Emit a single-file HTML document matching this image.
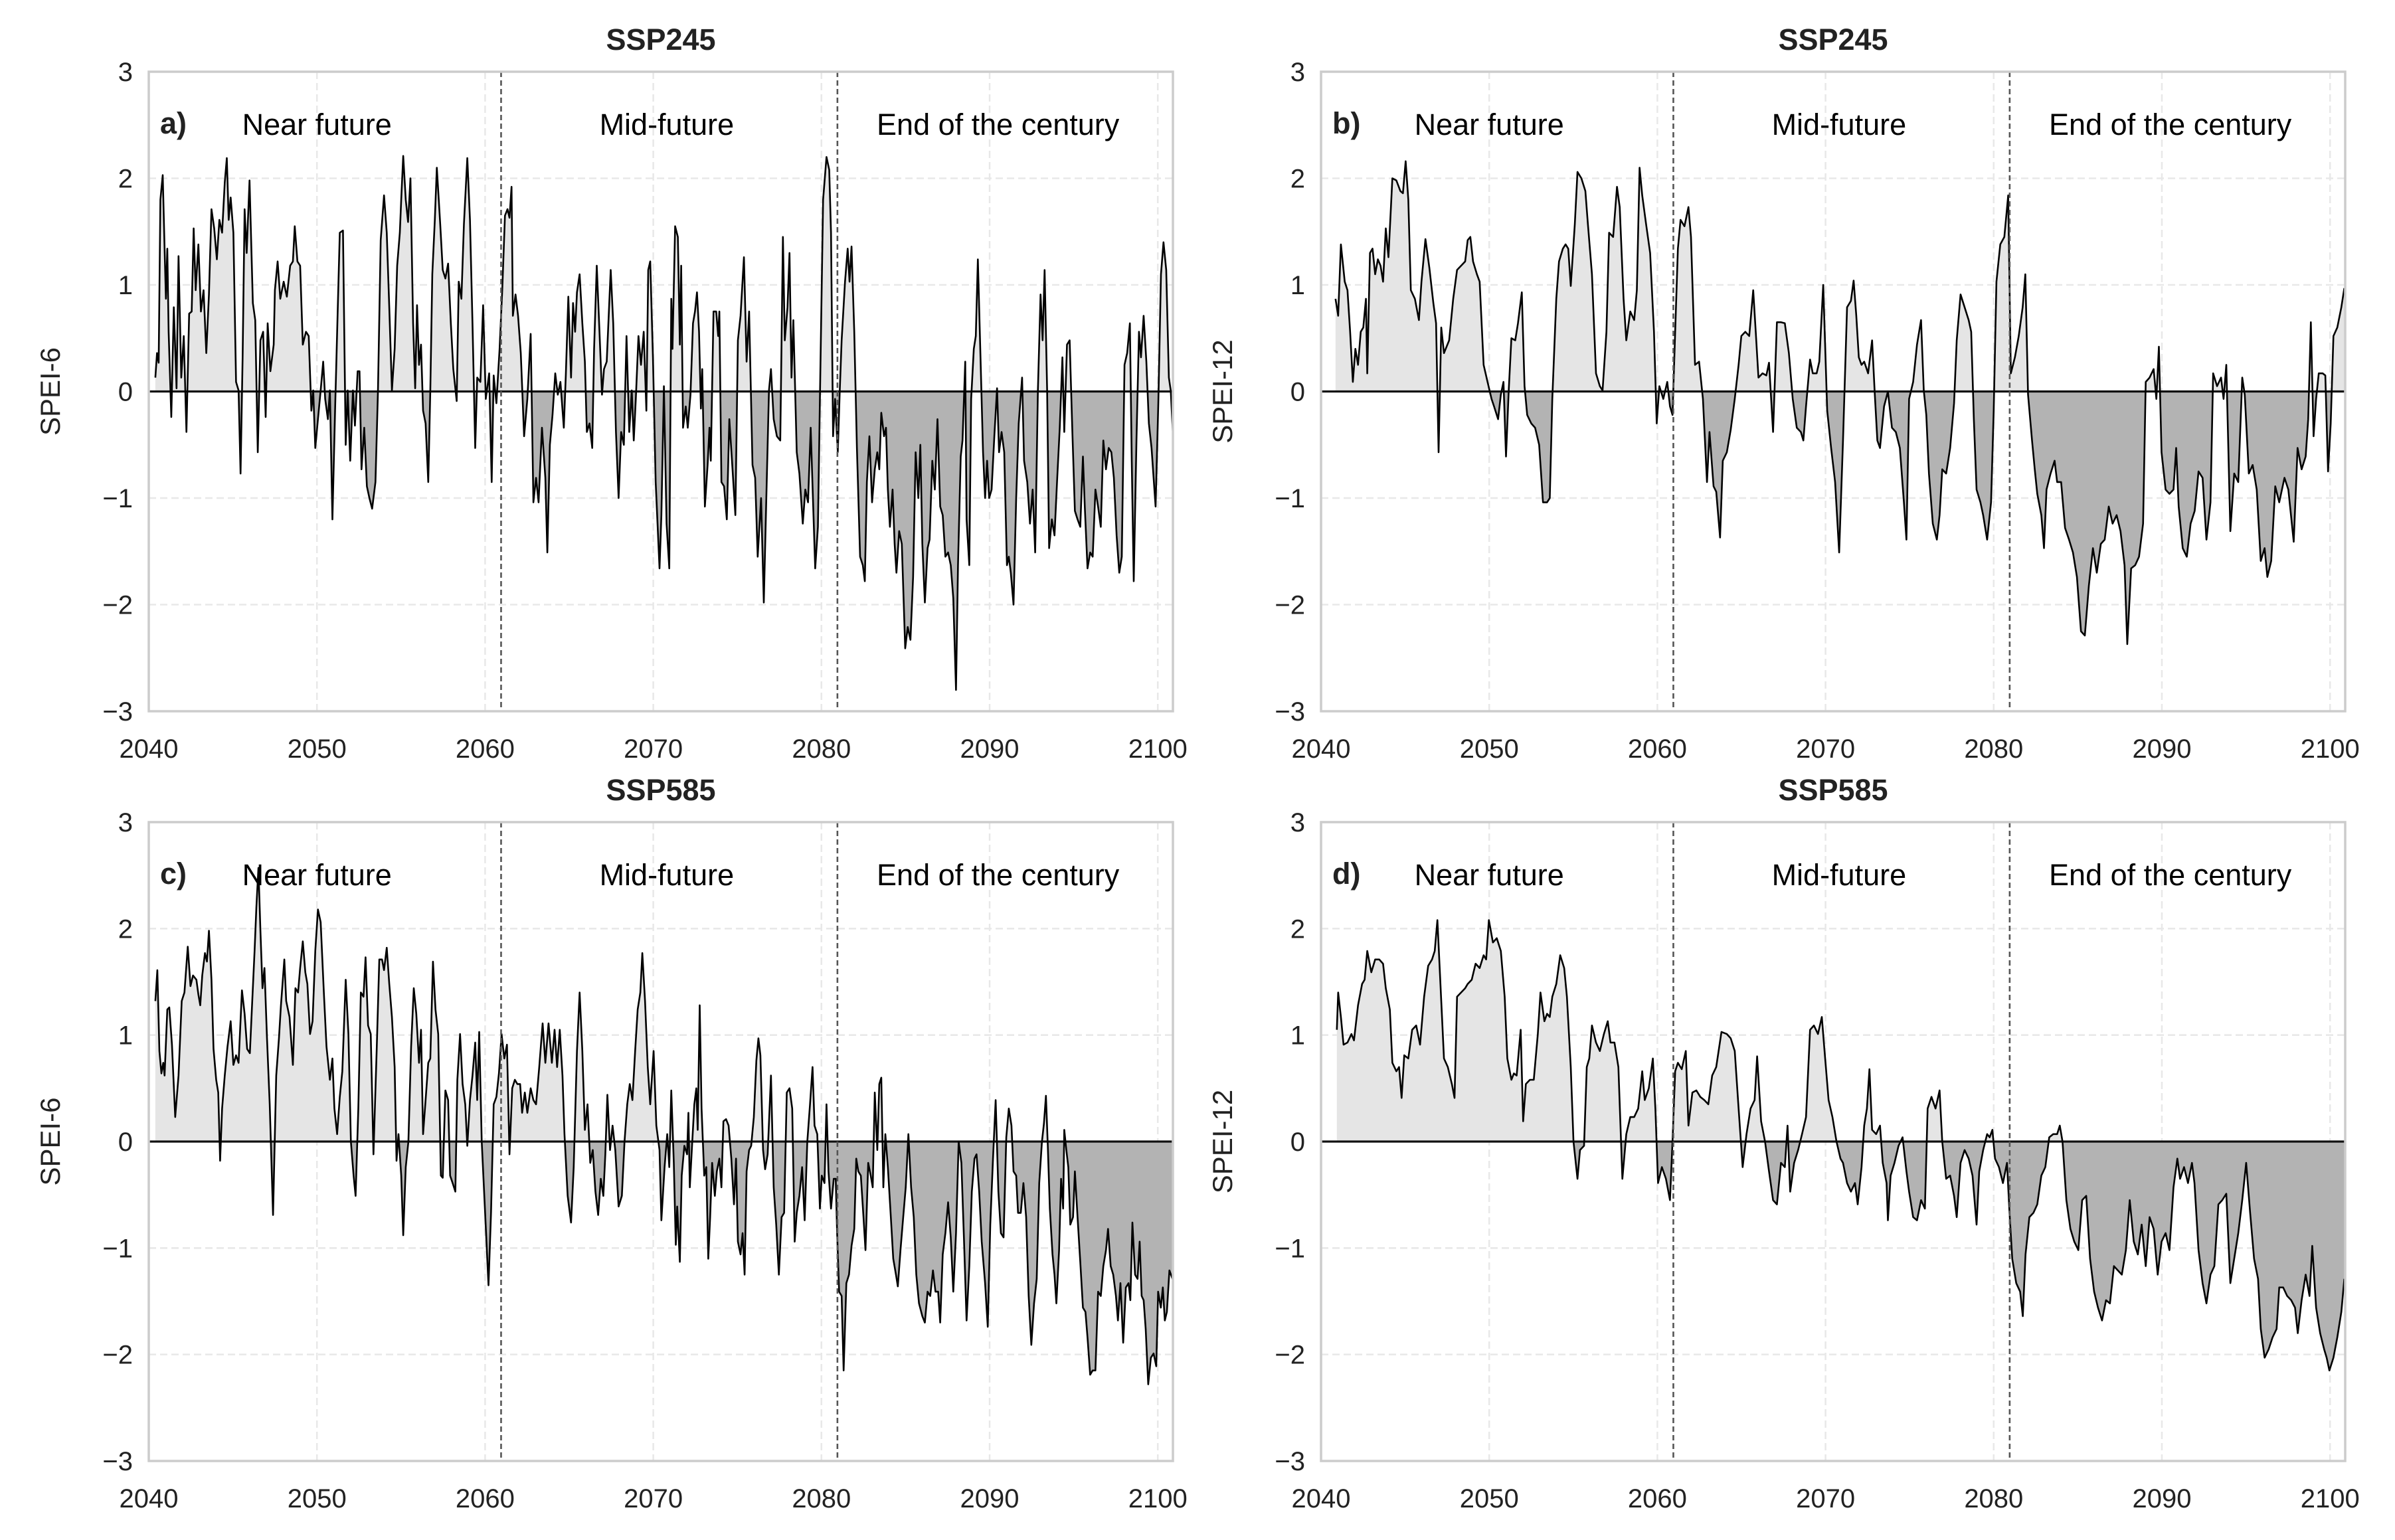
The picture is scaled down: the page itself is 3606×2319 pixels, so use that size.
<!DOCTYPE html>
<html><head><meta charset="utf-8"><title>SPEI projections</title>
<style>
html,body{margin:0;padding:0;background:#fff;}
svg{display:block;font-family:"Liberation Sans",Arial,sans-serif;}
</style></head>
<body>
<svg id="fig" width="3606" height="2319" viewBox="0 0 3606 2319" xmlns="http://www.w3.org/2000/svg"></svg>
<script>
// ---------- DATA ----------
const xTicks = [2040, 2050, 2060, 2070, 2080, 2090, 2100];
const yTicks = [-3, -2, -1, 0, 1, 2, 3];
const yTickLabels = ["\u22123", "\u22122", "\u22121", "0", "1", "2", "3"];
const periodBounds = [2060.95, 2080.95];
const periodNames = ["Near future", "Mid-future", "End of the century"];
const periodLabelYears = [2050, 2070.8, 2090.5];
const panelTags = ["a)", "b)", "c)", "d)"];
const scenarioTitles = ["SSP245", "SSP245", "SSP585", "SSP585"];
const yAxisTitles = ["SPEI-6", "SPEI-12", "SPEI-6", "SPEI-12"];

const yearsA = [2040.39,2040.49,2040.59,2040.69,2040.83,2040.94,2041.02,2041.1,2041.18,2041.34,2041.49,2041.65,2041.77,2041.93,2042.08,2042.24,2042.4,2042.55,2042.67,2042.79,2042.95,2043.1,2043.26,2043.42,2043.58,2043.73,2043.89,2044.05,2044.2,2044.36,2044.52,2044.64,2044.75,2044.87,2045.03,2045.19,2045.34,2045.46,2045.58,2045.7,2045.82,2045.99,2046.19,2046.33,2046.48,2046.64,2046.8,2046.95,2047.07,2047.23,2047.43,2047.5,2047.66,2047.82,2048.02,2048.21,2048.41,2048.57,2048.68,2048.84,2049,2049.16,2049.35,2049.51,2049.67,2049.78,2049.9,2050.06,2050.22,2050.37,2050.49,2050.65,2050.77,2050.92,2051.08,2051.24,2051.36,2051.55,2051.71,2051.83,2051.98,2052.14,2052.26,2052.42,2052.53,2052.65,2052.81,2052.97,2053.12,2053.28,2053.48,2053.63,2053.79,2053.99,2054.15,2054.3,2054.46,2054.62,2054.77,2054.93,2055.01,2055.13,2055.28,2055.42,2055.56,2055.72,2055.84,2055.95,2056.07,2056.19,2056.31,2056.46,2056.62,2056.74,2056.86,2057.01,2057.13,2057.33,2057.48,2057.64,2057.8,2057.96,2058.11,2058.31,2058.43,2058.59,2058.74,2058.94,2059.1,2059.25,2059.41,2059.53,2059.72,2059.88,2060.04,2060.24,2060.39,2060.51,2060.67,2060.86,2061.02,2061.18,2061.33,2061.45,2061.57,2061.65,2061.81,2061.96,2062.12,2062.32,2062.51,2062.71,2062.87,2063.03,2063.18,2063.38,2063.58,2063.7,2063.85,2064.01,2064.17,2064.32,2064.48,2064.68,2064.8,2064.95,2065.11,2065.23,2065.35,2065.46,2065.62,2065.78,2065.93,2066.05,2066.21,2066.37,2066.48,2066.64,2066.8,2066.95,2067.07,2067.23,2067.47,2067.62,2067.78,2067.94,2068.09,2068.25,2068.41,2068.57,2068.72,2068.84,2068.96,2069.12,2069.27,2069.43,2069.59,2069.7,2069.82,2069.98,2070.14,2070.37,
2070.48,2070.63,2070.79,2070.95,2071.07,2071.14,2071.3,2071.46,2071.58,2071.66,2071.77,2071.93,2072.05,2072.21,2072.36,2072.48,2072.6,2072.72,2072.83,2072.91,2073.07,2073.23,2073.34,2073.42,2073.58,2073.74,2073.86,2073.93,2074.05,2074.21,2074.37,2074.52,2074.68,2074.88,2075.03,2075.19,2075.39,2075.55,2075.7,2075.9,2076.06,2076.21,2076.41,2076.57,2076.72,2076.88,2077,2077.16,2077.35,2077.55,2077.71,2077.82,2077.98,2078.1,2078.22,2078.33,2078.53,2078.69,2078.89,2079.04,2079.2,2079.36,2079.47,2079.63,2079.79,2079.91,2080.1,2080.3,2080.46,2080.57,2080.69,2080.81,2080.97,2081.09,2081.2,2081.4,2081.56,2081.67,2081.79,2081.95,2082.11,2082.3,2082.46,2082.58,2082.7,2082.85,2083.01,2083.17,2083.32,2083.44,2083.56,2083.72,2083.84,2083.95,2084.07,2084.23,2084.35,2084.46,2084.62,2084.78,2084.98,2085.13,2085.29,2085.45,2085.6,2085.76,2085.88,2086,2086.15,2086.31,2086.43,2086.59,2086.74,2086.9,2087.06,2087.21,2087.37,2087.53,2087.69,2087.84,2088,2088.12,2088.28,2088.39,2088.55,2088.63,2088.79,2088.9,2089.06,2089.18,2089.3,2089.45,2089.61,2089.73,2089.85,2089.97,2090.12,2090.28,2090.44,2090.56,2090.71,2090.87,2091.03,2091.14,2091.26,2091.42,2091.58,2091.73,2091.93,2092.05,2092.24,2092.4,2092.56,2092.71,2092.87,2093.03,2093.15,2093.27,2093.42,2093.54,2093.7,2093.86,2094.01,2094.17,2094.33,2094.44,2094.6,2094.76,2094.92,2095.07,2095.23,2095.39,2095.55,2095.66,2095.82,2095.98,2096.13,2096.29,2096.45,2096.61,2096.76,2096.92,2097.08,2097.24,2097.39,2097.55,2097.71,2097.86,2098.02,2098.18,2098.34,2098.45,2098.57,2098.73,2098.88,2099,2099.16,2099.32,2099.47,2099.63,2099.87,2100.03,2100.19,2100.34,2100.5,2100.66,2100.77,2100.9];
const valuesA = [0.13,0.36,0.27,1.8,2.03,1.34,0.87,1.34,0.56,-0.24,0.79,0.03,1.27,0.13,0.52,-0.38,0.73,0.75,1.53,0.95,1.38,0.75,0.95,0.36,0.91,1.71,1.53,1.24,1.61,1.49,1.96,2.19,1.61,1.82,1.49,0.09,0.01,-0.77,0.32,1.71,1.3,1.98,0.83,0.67,-0.57,0.48,0.56,-0.24,0.64,0.19,0.44,0.95,1.22,0.87,1.03,0.89,1.18,1.22,1.55,1.22,1.18,0.44,0.56,0.52,-0.18,0.01,-0.53,-0.26,0.01,0.28,-0.07,-0.26,0.01,-1.2,-0.18,0.79,1.49,1.51,-0.5,0.01,-0.65,0.01,-0.32,0.19,0.19,-0.73,-0.34,-0.89,-1.0,-1.1,-0.85,0.01,1.42,1.84,1.49,0.79,0.01,0.4,1.18,1.49,1.8,2.21,1.8,1.59,2.0,0.64,0.03,0.81,0.25,0.44,-0.18,-0.3,-0.85,0.01,1.1,1.61,2.1,1.57,1.14,1.06,1.2,0.64,0.21,-0.09,1.03,0.87,1.57,2.19,1.61,0.64,-0.53,0.13,0.09,0.81,-0.07,0.17,-0.85,0.15,-0.11,0.4,0.95,1.65,1.71,1.63,1.92,0.71,0.91,0.71,0.36,-0.42,-0.07,0.54,-1.04,-0.81,-1.04,-0.34,-0.81,-1.51,-0.5,-0.22,0.17,-0.03,0.09,-0.34,0.15,0.89,0.13,0.83,0.56,0.93,1.1,0.64,0.28,-0.38,-0.3,-0.53,0.4,1.18,0.56,-0.03,0.21,0.28,1.14,0.64,-0.38,-1.0,-0.38,-0.5,0.52,-0.38,0.01,-0.46,-0.07,0.52,0.25,0.56,-0.18,1.14,1.22,0.32,-0.85,-1.66,
-1.16,0.05,-1.24,-1.66,0.87,0.4,1.55,1.45,0.44,1.18,-0.34,-0.14,-0.34,-0.03,0.64,0.75,0.93,0.56,-0.16,0.21,-1.08,-0.69,-0.34,-0.65,0.75,0.75,0.52,0.75,-0.85,-0.89,-1.2,-0.26,-0.65,-1.16,0.48,0.71,1.26,0.28,0.75,-0.69,-0.81,-1.55,-1.0,-1.98,-1.0,0.01,0.21,-0.26,-0.42,-0.46,1.45,0.48,0.79,1.3,0.13,0.67,-0.57,-0.77,-1.24,-0.92,-1.04,-0.34,-0.89,-1.66,-1.27,-0.07,1.8,2.2,2.08,1.49,-0.42,-0.07,-0.57,0.01,0.48,1.03,1.34,1.03,1.36,0.56,-0.53,-1.55,-1.63,-1.78,-0.85,-0.42,-1.04,-0.73,-0.57,-0.73,-0.2,-0.42,-0.34,-0.92,-1.27,-0.92,-1.43,-1.7,-1.31,-1.43,-2.41,-2.21,-2.33,-1.74,-0.57,-1.0,-0.5,-1.43,-1.98,-1.47,-1.39,-0.65,-0.92,-0.26,-1.08,-1.16,-1.55,-1.51,-1.63,-1.94,-2.8,-1.63,-0.61,-0.46,0.28,-1.2,-1.63,-0.07,0.4,0.52,1.24,0.36,-0.57,-1.0,-0.65,-1.0,-0.92,-0.42,0.03,-0.57,-0.38,-0.57,-1.63,-1.55,-1.7,-2.0,-1.0,-0.3,0.13,-0.65,-0.85,-1.24,-0.92,-1.51,0.01,0.91,0.48,1.14,0.01,-1.47,-1.2,-1.35,-0.85,-0.34,0.32,-0.38,0.44,0.48,-0.38,-1.12,-1.2,-1.27,-0.61,-1.08,-1.66,-1.51,-1.55,-0.92,-1.08,-1.27,-0.46,-0.73,-0.53,-0.57,-0.81,-1.35,-1.7,-1.55,0.25,0.36,0.64,-0.65,-1.78,-0.46,0.56,0.32,0.71,0.28,-0.3,-0.53,-1.08,-0.11,1.1,1.4,1.14,0.13,0.01,-0.4];

const yearsB = [2040.86,2041.02,2041.18,2041.41,2041.57,2041.73,2041.89,2042.04,2042.2,2042.36,2042.51,2042.67,2042.75,2042.91,2043.06,2043.22,2043.38,2043.54,2043.69,2043.85,2044.01,2044.24,2044.48,2044.72,2044.87,2045.03,2045.19,2045.34,2045.58,2045.82,2045.97,2046.21,2046.44,2046.68,2046.84,2046.99,2047.15,2047.31,2047.62,2047.86,2048.09,2048.33,2048.57,2048.72,2048.88,2049.04,2049.27,2049.43,2049.67,2049.9,2050.14,2050.29,2050.53,2050.69,2050.85,2051,2051.16,2051.32,2051.55,2051.71,2051.94,2052.1,2052.26,2052.5,2052.73,2052.97,2053.2,2053.44,2053.6,2053.75,2053.99,2054.15,2054.38,2054.54,2054.7,2054.85,2055.09,2055.25,2055.48,2055.72,2055.87,2056.11,2056.35,2056.58,2056.74,2056.97,2057.13,2057.37,2057.6,2057.76,2057.99,2058.15,2058.39,2058.62,2058.78,2058.94,2059.1,2059.33,2059.57,2059.8,2059.96,2060.12,2060.35,2060.59,2060.75,2060.9,2061.06,2061.22,2061.38,2061.61,2061.85,2062,2062.24,2062.48,2062.71,2062.95,2063.1,2063.34,2063.5,2063.73,2063.89,2064.13,2064.36,2064.6,2064.83,2064.99,2065.23,2065.46,2065.7,2065.85,2066.01,2066.25,2066.48,2066.64,2066.88,2067.11,2067.35,2067.58,2067.82,2068.05,2068.29,2068.53,2068.68,2068.84,2069.08,2069.24,2069.47,2069.63,2069.86,2070.1,2070.33,2070.57,2070.81,2071.04,2071.28,2071.51,2071.67,2071.83,2071.98,2072.14,2072.3,2072.53,2072.77,2072.93,2073.08,2073.24,2073.48,2073.71,2073.95,2074.18,2074.42,2074.66,2074.81,2074.97,2075.21,2075.44,2075.68,2075.84,2075.99,2076.15,2076.38,2076.62,2076.78,2076.94,2077.17,2077.41,2077.64,2077.8,2078.03,2078.27,2078.51,2078.66,2078.82,2078.98,2079.21,2079.37,2079.61,2079.84,2080,2080.16,2080.39,2080.63,2080.86,2081.02,2081.26,2081.49,2081.72,2081.88,2082.04,2082.28,2082.44,2082.59,2082.83,2082.99,2083.14,2083.38,2083.62,2083.77,2084.01,2084.24,2084.48,2084.71,2084.95,2085.19,2085.42,2085.66,2085.9,2086.13,2086.37,2086.6,2086.84,2087.07,2087.31,2087.54,2087.78,2087.94,2088.17,2088.41,2088.64,2088.88,2089.04,2089.27,2089.51,2089.67,2089.82,2089.98,2090.22,2090.45,2090.69,2090.85,2091,2091.24,2091.48,2091.71,2091.95,2092.18,2092.42,2092.65,2092.89,2093.05,2093.28,2093.52,2093.67,2093.83,2094.07,2094.3,2094.54,2094.78,2094.93,2095.17,2095.4,2095.64,2095.88,2096.11,2096.27,2096.5,2096.74,2096.98,2097.29,2097.52,2097.84,2098.07,2098.31,2098.55,2098.7,2098.86,2099.02,2099.17,2099.33,2099.56,2099.72,2099.88,2100.04,2100.2,2100.43,2100.67,2100.85];
const valuesB = [0.87,0.71,1.38,1.03,0.95,0.56,0.09,0.4,0.25,0.56,0.6,0.87,0.17,1.3,1.34,1.1,1.24,1.18,1.03,1.53,1.26,2.0,1.98,1.88,1.86,2.16,1.8,0.95,0.87,0.67,1.03,1.43,1.16,0.83,0.64,-0.57,0.6,0.36,0.48,0.87,1.14,1.18,1.22,1.42,1.45,1.22,1.1,1.03,0.25,0.09,-0.07,-0.14,-0.26,-0.03,0.09,-0.61,0.01,0.5,0.48,0.64,0.93,0.05,-0.22,-0.3,-0.34,-0.5,-1.04,-1.04,-1.0,-0.07,0.87,1.22,1.34,1.38,1.34,0.99,1.57,2.06,2.0,1.88,1.57,1.1,0.17,0.05,0.01,0.56,1.49,1.45,1.92,1.73,0.87,0.48,0.75,0.67,0.95,2.1,1.84,1.57,1.3,0.56,-0.3,0.05,-0.07,0.09,-0.14,-0.22,0.56,1.34,1.61,1.55,1.73,1.45,0.25,0.28,-0.07,-0.85,-0.38,-0.89,-0.94,-1.37,-0.65,-0.57,-0.36,-0.07,0.25,0.52,0.56,0.52,0.95,0.56,0.13,0.17,0.15,0.27,-0.38,0.65,0.65,0.64,0.36,-0.07,-0.34,-0.38,-0.46,-0.14,0.3,0.17,0.17,0.28,1.0,-0.18,-0.53,-0.85,-1.51,-0.46,0.79,0.85,1.04,0.71,0.32,0.25,0.28,0.17,0.48,-0.03,-0.46,-0.53,-0.14,0,-0.34,-0.38,-0.53,-1.04,-1.39,-0.07,0.09,0.44,0.67,0.01,-0.22,-0.77,-1.24,-1.39,-1.16,-0.73,-0.77,-0.53,-0.11,0.48,0.91,0.79,0.67,0.56,-0.26,-0.92,-1.04,-1.16,-1.39,-1.04,-0.18,1.03,1.38,1.45,1.84,0.17,0.32,0.52,0.79,1.1,-0.03,-0.46,-0.73,-0.96,-1.16,-1.47,-0.92,-0.77,-0.65,-0.85,-0.85,-1.28,-1.39,-1.51,-1.74,-2.25,-2.29,-1.82,-1.47,-1.7,-1.43,-1.39,-1.08,-1.24,-1.16,-1.31,-1.63,-2.37,-1.66,-1.63,-1.55,-1.24,0.09,0.13,0.21,-0.07,0.42,-0.57,-0.92,-0.96,-0.92,-0.53,-1.08,-1.47,-1.55,-1.24,-1.12,-0.75,-0.81,-1.39,-1.04,0.17,0.05,0.13,-0.07,0.25,-1.31,-0.77,-0.85,0.13,-0.03,-0.77,-0.69,-0.92,-1.59,-1.47,-1.74,-1.59,-0.89,-1.04,-0.81,-0.92,-1.41,-0.53,-0.73,-0.61,-0.26,0.65,-0.42,-0.07,0.17,0.17,0.15,-0.75,-0.3,0.52,0.6,0.79,0.97];

const yearsC = [2040.39,2040.51,2040.63,2040.75,2040.86,2040.94,2041.1,2041.22,2041.38,2041.57,2041.77,2041.96,2042.12,2042.32,2042.48,2042.63,2042.83,2042.95,2043.06,2043.18,2043.34,2043.46,2043.58,2043.73,2043.85,2044.01,2044.13,2044.24,2044.36,2044.52,2044.68,2044.87,2045.03,2045.19,2045.34,2045.54,2045.7,2045.85,2046.01,2046.13,2046.29,2046.4,2046.52,2046.64,2046.76,2046.88,2047.03,2047.19,2047.39,2047.58,2047.74,2047.86,2048.06,2048.17,2048.37,2048.57,2048.72,2048.88,2049,2049.16,2049.31,2049.43,2049.59,2049.74,2049.9,2050.06,2050.22,2050.41,2050.57,2050.77,2050.92,2051.04,2051.2,2051.36,2051.51,2051.71,2051.87,2052.02,2052.18,2052.3,2052.46,2052.61,2052.77,2052.89,2053.04,2053.2,2053.36,2053.56,2053.71,2053.87,2053.99,2054.15,2054.3,2054.46,2054.62,2054.73,2054.85,2055.01,2055.13,2055.28,2055.44,2055.6,2055.76,2055.91,2056.07,2056.19,2056.31,2056.46,2056.62,2056.74,2056.9,2057.05,2057.21,2057.37,2057.48,2057.64,2057.8,2057.92,2058.07,2058.23,2058.35,2058.51,2058.66,2058.82,2058.94,2059.1,2059.25,2059.41,2059.53,2059.65,2059.8,2060,2060.2,2060.35,2060.51,2060.67,2060.82,2060.98,2061.14,2061.3,2061.45,2061.61,2061.77,2061.92,2062.08,2062.2,2062.36,2062.51,2062.71,2062.87,2063.03,2063.22,2063.42,2063.58,2063.77,2063.97,2064.13,2064.28,2064.44,2064.6,2064.72,2064.91,2065.11,2065.27,2065.46,2065.62,2065.78,2065.93,2066.09,2066.25,2066.4,2066.56,2066.72,2066.88,2067.03,2067.15,2067.27,2067.43,2067.58,2067.74,2067.94,2068.13,2068.29,2068.45,2068.6,2068.76,2068.92,2069.07,2069.23,2069.35,2069.51,2069.67,2069.82,2070.02,2070.18,2070.37,2070.48,2070.67,2070.83,2070.95,2071.07,2071.22,2071.34,2071.42,2071.58,2071.69,2071.85,2072.01,2072.09,2072.17,2072.32,2072.44,2072.56,2072.64,2072.76,2072.87,2073.03,2073.15,2073.27,2073.38,2073.5,2073.66,2073.78,2073.93,2074.05,2074.17,2074.33,2074.48,2074.64,2074.8,2074.92,2075.03,2075.19,2075.31,2075.43,2075.55,2075.7,2075.82,2075.98,2076.13,2076.25,2076.37,2076.53,2076.65,2076.8,2077,2077.16,2077.31,2077.47,2077.63,2077.78,2077.94,2078.1,2078.26,2078.41,2078.53,2078.69,2078.85,2079,2079.16,2079.32,2079.47,2079.59,2079.75,2079.91,2080.02,2080.18,2080.3,2080.42,2080.57,2080.73,2080.85,2080.93,2081.05,2081.2,2081.32,2081.48,2081.64,2081.79,2081.95,2082.07,2082.19,2082.34,2082.5,2082.62,2082.78,2082.93,2083.05,2083.17,2083.32,2083.44,2083.56,2083.68,2083.8,2083.95,2084.11,2084.27,2084.43,2084.54,2084.7,2084.86,2085.01,2085.17,2085.33,2085.49,2085.64,2085.8,2086,2086.15,2086.31,2086.47,2086.63,2086.78,2086.94,2087.06,2087.21,2087.37,2087.53,2087.69,2087.84,2088,2088.16,2088.32,2088.47,2088.63,2088.79,2088.94,2089.1,2089.22,2089.38,2089.53,2089.73,2089.89,2090.04,2090.2,2090.36,2090.52,2090.67,2090.83,2090.99,2091.14,2091.3,2091.42,2091.58,2091.69,2091.85,2092.01,2092.17,2092.32,2092.48,2092.64,2092.8,2092.95,2093.11,2093.23,2093.35,2093.46,2093.58,2093.74,2093.86,2093.97,2094.13,2094.25,2094.37,2094.44,2094.56,2094.68,2094.8,2094.96,2095.07,2095.23,2095.39,2095.55,2095.7,2095.82,2095.98,2096.13,2096.29,2096.45,2096.61,2096.76,2096.92,2097.04,2097.2,2097.35,2097.51,2097.63,2097.78,2097.94,2098.1,2098.26,2098.37,2098.49,2098.65,2098.8,2098.92,2099.04,2099.16,2099.28,2099.43,2099.59,2099.75,2099.91,2100.02,2100.18,2100.3,2100.42,2100.54,2100.69,2100.9];
const valuesC = [1.32,1.61,0.85,0.64,0.74,0.62,1.24,1.26,0.91,0.23,0.62,1.32,1.4,1.83,1.46,1.56,1.52,1.38,1.28,1.56,1.77,1.69,1.98,1.52,0.87,0.58,0.46,-0.18,0.31,0.62,0.89,1.13,0.72,0.81,0.74,1.42,1.2,0.87,0.83,1.24,1.79,2.2,2.57,1.98,1.44,1.63,0.97,0.35,-0.69,0.62,0.97,1.28,1.71,1.32,1.17,0.72,1.44,1.4,1.63,1.88,1.59,1.48,1.01,1.13,1.79,2.18,2.06,1.4,0.89,0.58,0.78,0.31,0.07,0.42,0.66,1.52,1.01,0,-0.32,-0.51,0.31,1.4,1.36,1.73,1.09,1.01,-0.12,0.89,1.71,1.71,1.61,1.82,1.48,1.17,0.7,-0.18,0.07,-0.32,-0.88,-0.24,0,0.89,1.44,1.2,0.74,1.05,0.07,0.39,0.74,0.78,1.69,1.24,1.01,-0.32,-0.34,0.48,0.39,-0.32,-0.39,-0.47,0.58,1.01,0.54,0.35,-0.04,0.39,0.62,0.93,0.39,1.03,0,-0.67,-1.35,-0.67,0.35,0.42,0.64,1.01,0.78,0.91,-0.12,0.5,0.58,0.54,0.54,0.27,0.46,0.27,0.5,0.39,0.35,0.7,1.11,0.74,1.11,0.74,1.05,0.7,1.05,0.62,0.07,-0.51,-0.76,-0.24,0.85,1.4,0.85,0.11,0.35,-0.2,-0.08,-0.47,-0.69,-0.35,-0.51,-0.12,0.44,-0.08,0.15,-0.08,-0.61,-0.51,0,0.35,0.54,0.39,0.85,1.24,1.4,1.77,1.32,0.7,0.35,0.85,0.15,-0.08,-0.74,-0.24,0.07,-0.24,0.48,-0.2,-0.97,-0.61,-1.13,-0.32,-0.04,-0.12,0.27,-0.43,0,0.35,0.5,0.11,1.28,0.31,-0.32,-0.24,-1.1,-0.71,-0.2,-0.51,-0.28,-0.16,-0.43,0.19,0.21,0.15,-0.16,-0.59,-0.16,-0.94,-1.06,-0.86,-1.25,-0.28,-0.08,-0.04,0.23,0.76,0.97,0.81,-0.08,-0.26,-0.12,0.62,-0.43,-0.78,-1.25,-0.71,-0.67,0.46,0.5,0.31,-0.94,-0.67,-0.51,-0.24,-0.74,0,0.35,0.7,0.15,0.07,-0.63,-0.32,-0.39,0.35,-0.28,-0.63,-0.35,-0.35,-0.86,-1.41,-1.45,-2.15,-1.33,-1.25,-0.98,-0.82,-0.16,-0.28,-0.32,-0.71,-1.02,-0.2,-0.32,-0.43,0.46,-0.08,0.54,0.6,-0.43,0.07,-0.24,-0.67,-1.1,-1.25,-1.36,-1.02,-0.71,-0.43,0.07,-0.43,-0.71,-1.25,-1.52,-1.64,-1.7,-1.41,-1.45,-1.21,-1.41,-1.41,-1.7,-1.06,-0.86,-0.57,-0.9,-1.41,-0.86,0,-0.2,-0.9,-1.68,-1.17,-0.47,-0.16,-0.12,-0.47,-0.94,-1.33,-1.74,-0.78,-0.16,0.39,-0.47,-0.86,-0.9,0.04,0.31,0.15,-0.28,-0.32,-0.67,-0.67,-0.39,-0.71,-1.45,-1.91,-1.52,-1.29,-0.39,0,0.17,0.43,-0.04,-0.63,-1.06,-1.25,-1.52,-1.02,-0.35,-0.63,0.11,-0.08,-0.24,-0.78,-0.71,-0.28,-0.71,-1.13,-1.56,-1.6,-1.84,-2.19,-2.15,-2.15,-1.41,-1.45,-1.17,-1.02,-0.82,-1.17,-1.25,-1.45,-1.68,-1.33,-1.89,-1.37,-1.33,-1.49,-0.76,-1.25,-1.29,-0.94,-1.45,-1.49,-1.76,-2.28,-2.03,-1.99,-2.11,-1.41,-1.56,-1.37,-1.68,-1.6,-1.21,-1.3];

const yearsD = [2040.94,2041.02,2041.18,2041.34,2041.57,2041.81,2041.96,2042.2,2042.44,2042.59,2042.75,2042.99,2043.22,2043.46,2043.69,2043.85,2044.09,2044.24,2044.48,2044.64,2044.79,2044.95,2045.19,2045.42,2045.66,2045.89,2046.13,2046.37,2046.6,2046.76,2046.92,2047.15,2047.31,2047.54,2047.78,2047.94,2048.09,2048.33,2048.57,2048.72,2048.96,2049.19,2049.43,2049.67,2049.82,2049.98,2050.22,2050.45,2050.69,2050.92,2051.08,2051.32,2051.47,2051.63,2051.87,2052.02,2052.18,2052.42,2052.65,2052.89,2053.05,2053.28,2053.44,2053.6,2053.75,2053.99,2054.22,2054.46,2054.62,2054.85,2055.01,2055.25,2055.4,2055.64,2055.8,2055.95,2056.11,2056.35,2056.58,2056.82,2057.05,2057.21,2057.45,2057.68,2057.92,2058.15,2058.39,2058.62,2058.86,2059.1,2059.25,2059.49,2059.73,2059.88,2060.04,2060.27,2060.51,2060.75,2060.9,2061.06,2061.22,2061.45,2061.69,2061.85,2062.08,2062.32,2062.55,2062.79,2063.03,2063.26,2063.5,2063.81,2064.13,2064.36,2064.6,2064.83,2065.07,2065.3,2065.54,2065.78,2065.93,2066.17,2066.4,2066.64,2066.88,2067.11,2067.35,2067.58,2067.74,2067.9,2068.13,2068.37,2068.6,2068.84,2069.08,2069.31,2069.55,2069.78,2069.94,2070.18,2070.41,2070.65,2070.89,2071.04,2071.28,2071.51,2071.75,2071.91,2072.14,2072.3,2072.46,2072.61,2072.77,2073.01,2073.24,2073.4,2073.63,2073.71,2073.87,2074.1,2074.34,2074.58,2074.81,2074.97,2075.21,2075.44,2075.68,2075.91,2076.07,2076.3,2076.54,2076.78,2076.94,2077.17,2077.41,2077.64,2077.8,2078.03,2078.27,2078.51,2078.74,2078.98,2079.14,2079.37,2079.61,2079.76,2079.92,2080.08,2080.31,2080.55,2080.79,2080.94,2081.1,2081.34,2081.57,2081.73,2081.89,2082.12,2082.36,2082.59,2082.83,2083.07,2083.3,2083.54,2083.77,2083.93,2084.09,2084.32,2084.56,2084.79,2085.03,2085.26,2085.5,2085.73,2085.97,2086.2,2086.44,2086.68,2086.91,2087.15,2087.38,2087.62,2087.86,2088.09,2088.33,2088.57,2088.8,2089.04,2089.27,2089.51,2089.75,2089.98,2090.22,2090.45,2090.69,2090.92,2091.08,2091.32,2091.55,2091.79,2091.94,2092.18,2092.42,2092.65,2092.89,2093.12,2093.36,2093.59,2093.83,2094.07,2094.3,2094.54,2094.78,2095.01,2095.25,2095.48,2095.72,2095.88,2096.11,2096.35,2096.58,2096.82,2096.98,2097.21,2097.45,2097.69,2097.92,2098.08,2098.31,2098.55,2098.78,2098.94,2099.17,2099.41,2099.65,2099.8,2099.96,2100.2,2100.43,2100.67,2100.85];
const valuesD = [1.05,1.4,1.17,0.91,0.93,1.01,0.95,1.28,1.48,1.52,1.79,1.59,1.71,1.71,1.67,1.44,1.24,0.74,0.66,0.7,0.41,0.81,0.78,1.05,1.09,0.91,1.36,1.65,1.71,1.79,2.08,1.32,0.78,0.7,0.54,0.41,1.36,1.4,1.44,1.48,1.52,1.67,1.63,1.75,1.71,2.08,1.87,1.91,1.79,1.36,0.78,0.58,0.64,0.62,1.05,0.19,0.54,0.58,0.58,1.01,1.4,1.13,1.2,1.17,1.36,1.48,1.75,1.63,1.36,0.7,0,-0.35,-0.08,-0.04,0.7,0.78,1.09,0.93,0.85,1.01,1.13,0.93,0.93,0.7,-0.35,0.07,0.23,0.23,0.31,0.66,0.39,0.5,0.78,0.31,-0.39,-0.24,-0.35,-0.55,0,0.66,0.74,0.68,0.85,0.15,0.46,0.48,0.42,0.39,0.35,0.62,0.7,1.03,1.01,0.97,0.85,0.31,-0.24,0.07,0.31,0.39,0.8,0.19,0,-0.28,-0.55,-0.59,-0.2,-0.24,0.15,-0.47,-0.2,-0.08,0.07,0.23,1.05,1.09,1.01,1.17,0.85,0.39,0.23,0,-0.16,-0.2,-0.39,-0.47,-0.39,-0.59,-0.24,0.15,0.31,0.68,0.11,0.07,0.15,-0.2,-0.39,-0.74,-0.32,-0.2,-0.04,0.04,-0.28,-0.47,-0.71,-0.74,-0.55,-0.63,0.31,0.42,0.31,0.48,0,-0.35,-0.32,-0.51,-0.71,-0.2,-0.08,-0.16,-0.32,-0.78,-0.28,-0.08,0.07,0.04,0.11,-0.16,-0.24,-0.39,-0.2,-0.67,-1.1,-1.33,-1.41,-1.64,-1.06,-0.71,-0.67,-0.59,-0.32,-0.24,0.04,0.07,0.07,0.15,0,-0.55,-0.82,-0.94,-1.02,-0.55,-0.51,-1.1,-1.41,-1.56,-1.68,-1.49,-1.52,-1.17,-1.21,-1.25,-1.02,-0.55,-0.94,-1.06,-0.78,-1.17,-0.71,-0.82,-1.25,-0.94,-0.86,-1.02,-0.43,-0.16,-0.35,-0.24,-0.39,-0.2,-0.39,-1.02,-1.33,-1.52,-1.25,-1.17,-0.59,-0.55,-0.49,-1.33,-1.1,-0.86,-0.55,-0.2,-0.67,-1.1,-1.29,-1.76,-2.03,-1.95,-1.84,-1.76,-1.37,-1.37,-1.45,-1.49,-1.56,-1.8,-1.49,-1.25,-1.45,-0.98,-1.56,-1.8,-1.95,-2.03,-2.15,-2.03,-1.84,-1.6,-1.29];

// ---------- DRAWING ----------
const NS = "http://www.w3.org/2000/svg";
const svg = document.getElementById("fig");
const XMIN = 2040, XMAX = 2100.9, YMIN = -3, YMAX = 3;
const panels = [
  {id:"a", x0:224,  x1:1766, top:108,  bottom:1071, years:yearsA, values:valuesA},
  {id:"b", x0:1989, x1:3531, top:108,  bottom:1071, years:yearsB, values:valuesB},
  {id:"c", x0:224,  x1:1766, top:1238, bottom:2200, years:yearsC, values:valuesC},
  {id:"d", x0:1989, x1:3531, top:1238, bottom:2200, years:yearsD, values:valuesD}
];
function el(tag, attrs, parent){
  const e = document.createElementNS(NS, tag);
  for (const k in attrs) e.setAttribute(k, attrs[k]);
  (parent || svg).appendChild(e);
  return e;
}
const defs = el("defs", {});

panels.forEach((p, i) => {
  const xs = v => p.x0 + (v - XMIN) / (XMAX - XMIN) * (p.x1 - p.x0);
  const ys = v => p.bottom - (v - YMIN) / (YMAX - YMIN) * (p.bottom - p.top);
  const g = el("g", {});
  
  

  xTicks.forEach(t => {
    const l = el("line", {x1:xs(t), x2:xs(t), y1:p.top, y2:p.bottom, stroke:"#e8e8e8", "stroke-width":2.5, "stroke-dasharray":"11,6"}, g);
    
    
  });
  yTicks.forEach(t => {
    const l = el("line", {x1:p.x0, x2:p.x1, y1:ys(t), y2:ys(t), stroke:"#e8e8e8", "stroke-width":2.5, "stroke-dasharray":"11,6"}, g);
    
    
  });

  const y0 = ys(0);
  const cpA = el("clipPath", {id:"above-" + p.id}, defs);
  el("rect", {x:p.x0, y:p.top, width:p.x1 - p.x0, height:y0 - p.top}, cpA);
  const cpB = el("clipPath", {id:"below-" + p.id}, defs);
  el("rect", {x:p.x0, y:y0, width:p.x1 - p.x0, height:p.bottom - y0}, cpB);

  let line = "";
  p.years.forEach((yr, k) => {
    line += (k ? " L" : "M") + xs(yr).toFixed(1) + "," + ys(p.values[k]).toFixed(1);
  });
  const first = xs(p.years[0]).toFixed(1), last = xs(p.years[p.years.length - 1]).toFixed(1);
  const area = "M" + first + "," + y0 + " L" + line.slice(1) + " L" + last + "," + y0 + " Z";

  const pos = el("path", {d:area, fill:"#e5e5e5", "clip-path":"url(#above-" + p.id + ")"}, g);
  
  
  const neg = el("path", {d:area, fill:"#b3b3b3", "clip-path":"url(#below-" + p.id + ")"}, g);
  
  

  const zl = el("line", {x1:p.x0, x2:p.x1, y1:y0, y2:y0, stroke:"#111", "stroke-width":3.2}, g);
  
  

  const series = el("path", {d:line, fill:"none", stroke:"#000", "stroke-width":2.6, "stroke-linejoin":"round"}, g);
  
  

  periodBounds.forEach(b => {
    const l = el("line", {x1:xs(b), x2:xs(b), y1:p.top, y2:p.bottom, stroke:"#555", "stroke-width":2.6, "stroke-dasharray":"8,5"}, g);
    
    
  });

  const fr = el("rect", {x:p.x0, y:p.top, width:p.x1 - p.x0, height:p.bottom - p.top, fill:"none", stroke:"#cccccc", "stroke-width":3.5}, g);
  
  

  periodNames.forEach((n, k) => {
    const t = el("text", {x:xs(periodLabelYears[k]), y:p.top + 95, "font-size":45, "text-anchor":"middle", fill:"#000"}, g);
    t.textContent = n;
    
    
  });
  const tag = el("text", {x:p.x0 + 17, y:p.top + 93, "font-size":45, "font-weight":"bold", fill:"#222"}, g);
  tag.textContent = panelTags[i];
  
  

  const ti = el("text", {x:(p.x0 + p.x1) / 2, y:p.top - 33, "font-size":45, "font-weight":"bold", "text-anchor":"middle", fill:"#222"}, g);
  ti.textContent = scenarioTitles[i];
  
  

  xTicks.forEach(t => {
    const tx = el("text", {x:xs(t), y:p.bottom + 70, "font-size":40, "text-anchor":"middle", fill:"#222"}, g);
    tx.textContent = String(t);
    
    
  });
  yTicks.forEach((t, k) => {
    const tx = el("text", {x:p.x0 - 24, y:ys(t) + 14, "font-size":40, "text-anchor":"end", fill:"#222"}, g);
    tx.textContent = yTickLabels[k];
    
    
  });

  const cy = (p.top + p.bottom) / 2, cx = p.x0 - 134;
  const yt = el("text", {x:cx, y:cy, "font-size":42, "text-anchor":"middle", fill:"#222", transform:"rotate(-90 " + cx + " " + cy + ")"}, g);
  yt.textContent = yAxisTitles[i];
  
  
});
</script>
</body></html>
